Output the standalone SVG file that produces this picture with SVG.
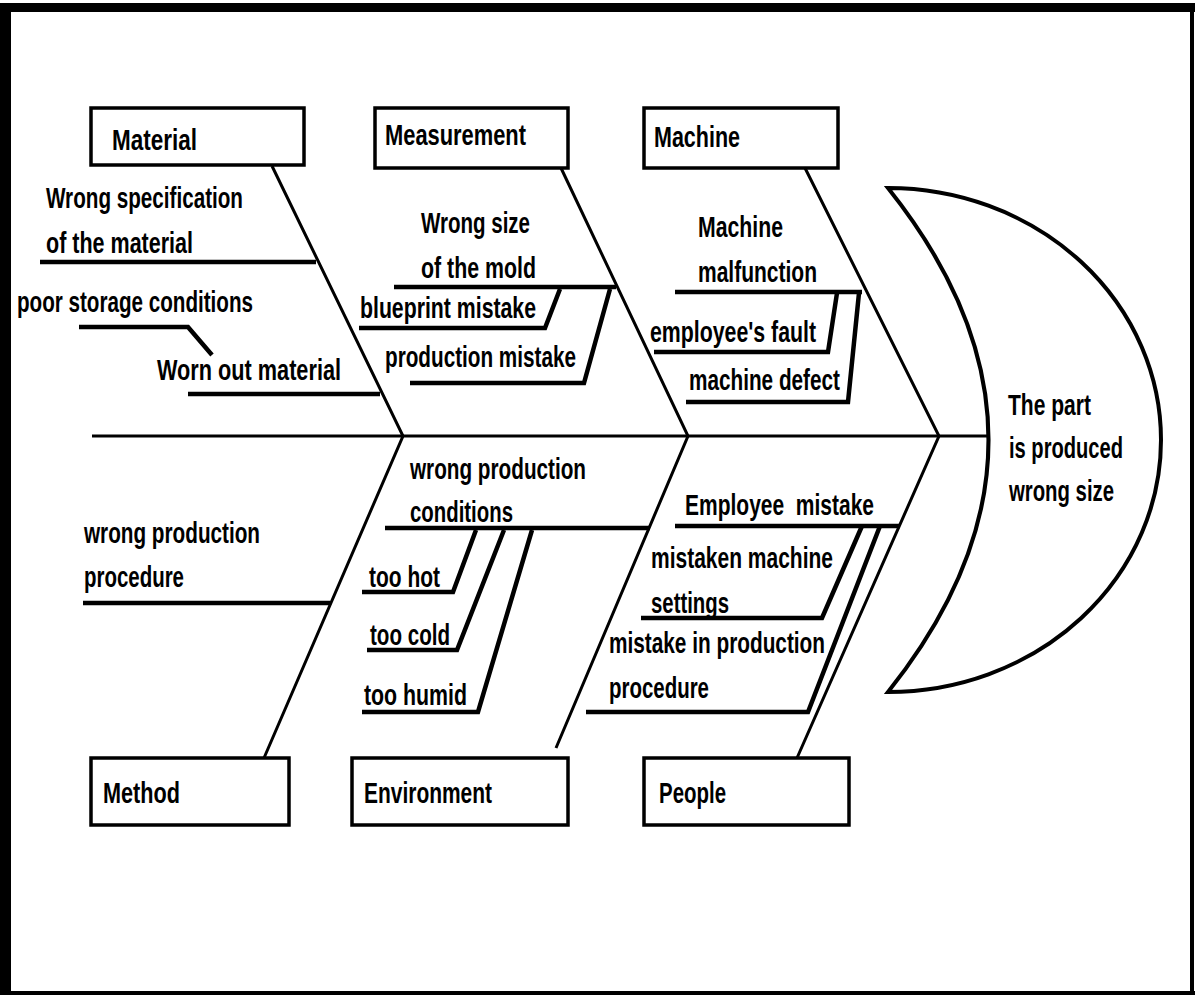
<svg xmlns="http://www.w3.org/2000/svg" width="1195" height="998" viewBox="0 0 1195 998">
<defs>
<style>
.t{font-family:"Liberation Sans",Arial,sans-serif;font-size:30px;font-weight:bold;fill:#000}
.ln{stroke:#000;stroke-width:3;fill:none}
.ul{stroke:#000;stroke-width:4.5;fill:none}
.box{fill:#fff;stroke:#000;stroke-width:3.5}
.head{fill:#fff;stroke:#000;stroke-width:4}
</style>
</defs>
<rect width="1195" height="998" fill="#fff"/>
<g id="frame">
<line x1="5.5" y1="3" x2="5.5" y2="995" stroke="#000" stroke-width="11"/>
<line x1="0" y1="7.5" x2="1195" y2="7.5" stroke="#000" stroke-width="9"/>
<line x1="1192" y1="3" x2="1192" y2="995" stroke="#000" stroke-width="4"/>
<line x1="0" y1="993" x2="1195" y2="993" stroke="#000" stroke-width="4"/>
</g>

<g id="connectors">
<line class="ln" x1="92" y1="436" x2="988" y2="436"/>
<polyline class="ln" points="272,166 403,436 264,758"/>
<polyline class="ln" points="561,168 688,436 556,748"/>
<polyline class="ln" points="805,168 939,436 797,758"/>
</g>

<g id="head">
<path class="head" d="M888,188 A273,252 0 0 1 888,692 Q1089,440 888,188 Z"/>
<text class="t" x="1008" y="415" textLength="83" lengthAdjust="spacingAndGlyphs">The part</text>
<text class="t" x="1009" y="458" textLength="114" lengthAdjust="spacingAndGlyphs">is produced</text>
<text class="t" x="1009" y="501" textLength="105" lengthAdjust="spacingAndGlyphs">wrong size</text>
</g>

<g id="material">
<rect class="box" x="91" y="108" width="213" height="57"/>
<text class="t" x="112" y="150" textLength="85" lengthAdjust="spacingAndGlyphs">Material</text>
</g>
<g id="measurement">
<rect class="box" x="375" y="108" width="193" height="60"/>
<text class="t" x="385" y="145" textLength="141" lengthAdjust="spacingAndGlyphs">Measurement</text>
</g>
<g id="machine">
<rect class="box" x="644" y="108" width="194" height="60"/>
<text class="t" x="654" y="147" textLength="86" lengthAdjust="spacingAndGlyphs">Machine</text>
</g>
<g id="method">
<rect class="box" x="91" y="758" width="198" height="67"/>
<text class="t" x="103" y="803" textLength="77" lengthAdjust="spacingAndGlyphs">Method</text>
</g>
<g id="environment">
<rect class="box" x="352" y="758" width="216" height="67"/>
<text class="t" x="364" y="803" textLength="128" lengthAdjust="spacingAndGlyphs">Environment</text>
</g>
<g id="people">
<rect class="box" x="644" y="758" width="205" height="67"/>
<text class="t" x="659" y="803" textLength="67" lengthAdjust="spacingAndGlyphs">People</text>
</g>

<g id="cause-wrong-spec">
<text class="t" x="46" y="208" textLength="197" lengthAdjust="spacingAndGlyphs">Wrong specification</text>
<text class="t" x="46" y="253" textLength="147" lengthAdjust="spacingAndGlyphs">of the material</text>
<line class="ul" x1="40" y1="262" x2="316" y2="262"/>
</g>
<g id="cause-poor-storage">
<text class="t" x="17" y="312" textLength="236" lengthAdjust="spacingAndGlyphs">poor storage conditions</text>
<polyline class="ul" points="79,327 188,327 212,355"/>
</g>
<g id="cause-worn-out">
<text class="t" x="157" y="380" textLength="184" lengthAdjust="spacingAndGlyphs">Worn out material</text>
<line class="ul" x1="188" y1="394" x2="380" y2="394"/>
</g>

<g id="cause-mold">
<text class="t" x="421" y="233" textLength="109" lengthAdjust="spacingAndGlyphs">Wrong size</text>
<text class="t" x="421" y="278" textLength="115" lengthAdjust="spacingAndGlyphs">of the mold</text>
<line class="ul" x1="394" y1="287" x2="616" y2="287"/>
</g>
<g id="cause-blueprint">
<text class="t" x="360" y="318" textLength="176" lengthAdjust="spacingAndGlyphs">blueprint mistake</text>
<polyline class="ul" points="359,328 545,328 560,289"/>
</g>
<g id="cause-production-mistake">
<text class="t" x="385" y="367" textLength="191" lengthAdjust="spacingAndGlyphs">production mistake</text>
<polyline class="ul" points="410,383 584,383 610,289"/>
</g>

<g id="cause-malfunction">
<text class="t" x="698" y="237" textLength="85" lengthAdjust="spacingAndGlyphs">Machine</text>
<text class="t" x="698" y="282" textLength="119" lengthAdjust="spacingAndGlyphs">malfunction</text>
<line class="ul" x1="675" y1="292" x2="862" y2="292"/>
</g>
<g id="cause-employee-fault">
<text class="t" x="650" y="342" textLength="166" lengthAdjust="spacingAndGlyphs">employee's fault</text>
<polyline class="ul" points="654,352 828,352 837,293"/>
</g>
<g id="cause-machine-defect">
<text class="t" x="689" y="390" textLength="151" lengthAdjust="spacingAndGlyphs">machine defect</text>
<polyline class="ul" points="686,402 848,402 859,293"/>
</g>

<g id="cause-wrong-procedure">
<text class="t" x="84" y="543" textLength="176" lengthAdjust="spacingAndGlyphs">wrong production</text>
<text class="t" x="84" y="587" textLength="100" lengthAdjust="spacingAndGlyphs">procedure</text>
<line class="ul" x1="83" y1="603" x2="330" y2="603"/>
</g>

<g id="cause-conditions">
<text class="t" x="410" y="479" textLength="176" lengthAdjust="spacingAndGlyphs">wrong production</text>
<text class="t" x="410" y="522" textLength="103" lengthAdjust="spacingAndGlyphs">conditions</text>
<line class="ul" x1="385" y1="528" x2="650" y2="528"/>
</g>
<g id="cause-too-hot">
<text class="t" x="369" y="587" textLength="71" lengthAdjust="spacingAndGlyphs">too hot</text>
<polyline class="ul" points="362,592 453,592 476,530"/>
</g>
<g id="cause-too-cold">
<text class="t" x="370" y="645" textLength="80" lengthAdjust="spacingAndGlyphs">too cold</text>
<polyline class="ul" points="367,650 457,650 504,530"/>
</g>
<g id="cause-too-humid">
<text class="t" x="364" y="705" textLength="103" lengthAdjust="spacingAndGlyphs">too humid</text>
<polyline class="ul" points="362,712 478,712 532,530"/>
</g>

<g id="cause-employee-mistake">
<text class="t" x="685" y="515" textLength="189" lengthAdjust="spacingAndGlyphs" xml:space="preserve">Employee  mistake</text>
<line class="ul" x1="675" y1="526" x2="900" y2="526"/>
</g>
<g id="cause-machine-settings">
<text class="t" x="651" y="568" textLength="182" lengthAdjust="spacingAndGlyphs">mistaken machine</text>
<text class="t" x="651" y="613" textLength="78" lengthAdjust="spacingAndGlyphs">settings</text>
<polyline class="ul" points="641,618 822,618 862,526"/>
</g>
<g id="cause-procedure-mistake">
<text class="t" x="609" y="653" textLength="216" lengthAdjust="spacingAndGlyphs">mistake in production</text>
<text class="t" x="609" y="698" textLength="100" lengthAdjust="spacingAndGlyphs">procedure</text>
<polyline class="ul" points="586,712 808,712 880,526"/>
</g>
</svg>
